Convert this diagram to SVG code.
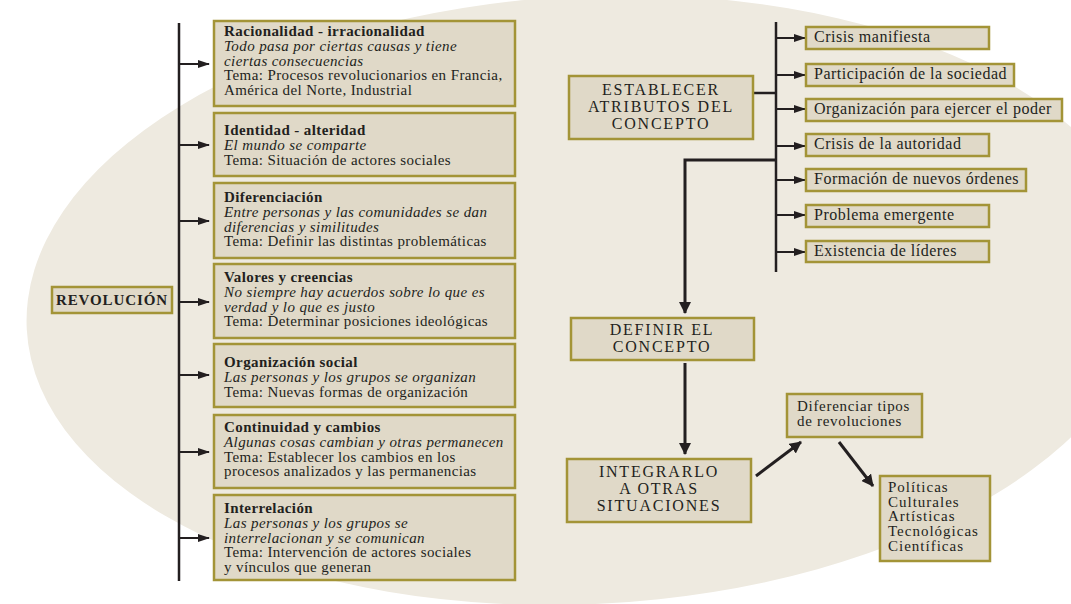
<svg xmlns="http://www.w3.org/2000/svg" width="1071" height="604" viewBox="0 0 1071 604">
<defs>
<style>
.bx{fill:#E0D9C8;stroke:#A39437;stroke-width:2.5}
text{fill:#231F20;font-size:15px;letter-spacing:0.4px;font-family:"Liberation Serif","Times New Roman",serif}
.b{font-weight:bold}
.i{font-style:italic}
.cap{font-size:16px;text-anchor:middle;letter-spacing:1.8px}
.it{font-size:16px;letter-spacing:0.5px}
.rv{font-weight:bold;letter-spacing:0.9px;text-anchor:middle}
.df{font-size:15px;letter-spacing:0.7px}
.tp{font-size:15px;letter-spacing:1px}
.ln{stroke:#231F20;stroke-width:2.5;fill:none}
.ar{stroke:#231F20;stroke-width:2;fill:none;marker-end:url(#ah)}
.ar2{stroke:#231F20;stroke-width:3;fill:none;marker-end:url(#ah2)}
</style>
<marker id="ah" markerWidth="12" markerHeight="8" refX="11" refY="4" orient="auto" markerUnits="userSpaceOnUse">
<path d="M0,0 L12,4 L0,8 Z" fill="#231F20"/>
</marker>
<marker id="ah2" markerWidth="12" markerHeight="12" refX="11" refY="6" orient="auto" markerUnits="userSpaceOnUse">
<path d="M0,0 L12,6 L0,12 Z" fill="#231F20"/>
</marker>
</defs>
<rect width="1071" height="604" fill="#FFFFFF"/>
<ellipse cx="588" cy="300" rx="562" ry="304" fill="#EEEAE0" transform="rotate(-3 588 300)"/>

<g id="connectors">
<line class="ln" x1="179" y1="23" x2="179" y2="581"/>
<line class="ar" x1="179" y1="64" x2="209" y2="64"/>
<line class="ar" x1="179" y1="145" x2="209" y2="145"/>
<line class="ar" x1="179" y1="221" x2="209" y2="221"/>
<line class="ar" x1="179" y1="302" x2="209" y2="302"/>
<line class="ar" x1="179" y1="375" x2="209" y2="375"/>
<line class="ar" x1="179" y1="452" x2="209" y2="452"/>
<line class="ar" x1="179" y1="538" x2="209" y2="538"/>
<line class="ln" x1="753" y1="93" x2="776" y2="93"/>
<line class="ln" x1="776" y1="22" x2="776" y2="272"/>
<line class="ar" x1="776" y1="38" x2="805" y2="38"/>
<line class="ar" x1="776" y1="75" x2="805" y2="75"/>
<line class="ar" x1="776" y1="109" x2="805" y2="109"/>
<line class="ar" x1="776" y1="146" x2="805" y2="146"/>
<line class="ar" x1="776" y1="180" x2="805" y2="180"/>
<line class="ar" x1="776" y1="215" x2="805" y2="215"/>
<line class="ar" x1="776" y1="252" x2="805" y2="252"/>
<path class="ar2" d="M776,160 H685 V313"/>
<line class="ar2" x1="685" y1="363" x2="685" y2="454"/>
<line class="ar2" x1="756" y1="476" x2="801" y2="442"/>
<line class="ar2" x1="839" y1="442" x2="873" y2="486"/>
</g>

<g id="revolucion">
<rect class="bx" x="52" y="287" width="120" height="26"/>
<text class="rv" x="112" y="305">REVOLUCIÓN</text>
</g>

<g id="n1">
<rect class="bx" x="214" y="21" width="301" height="85"/>
<text x="224" y="36"><tspan class="b">Racionalidad - irracionalidad</tspan><tspan class="i" x="224" dy="14.8">Todo pasa por ciertas causas y tiene</tspan><tspan class="i" x="224" dy="14.8">ciertas consecuencias</tspan><tspan x="224" dy="14.8">Tema: Procesos revolucionarios en Francia,</tspan><tspan x="224" dy="14.8">América del Norte, Industrial</tspan></text>
</g>
<g id="n2">
<rect class="bx" x="214" y="113" width="301" height="63"/>
<text x="224" y="135"><tspan class="b">Identidad - alteridad</tspan><tspan class="i" x="224" dy="14.8">El mundo se comparte</tspan><tspan x="224" dy="14.8">Tema: Situación de actores sociales</tspan></text>
</g>
<g id="n3">
<rect class="bx" x="214" y="183" width="301" height="75"/>
<text x="224" y="202"><tspan class="b">Diferenciación</tspan><tspan class="i" x="224" dy="14.8">Entre personas y las comunidades se dan</tspan><tspan class="i" x="224" dy="14.8">diferencias y similitudes</tspan><tspan x="224" dy="14.8">Tema: Definir las distintas problemáticas</tspan></text>
</g>
<g id="n4">
<rect class="bx" x="214" y="264" width="301" height="74"/>
<text x="224" y="282"><tspan class="b">Valores y creencias</tspan><tspan class="i" x="224" dy="14.8">No siempre hay acuerdos sobre lo que es</tspan><tspan class="i" x="224" dy="14.8">verdad y lo que es justo</tspan><tspan x="224" dy="14.8">Tema: Determinar posiciones ideológicas</tspan></text>
</g>
<g id="n5">
<rect class="bx" x="214" y="344" width="301" height="63"/>
<text x="224" y="367"><tspan class="b">Organización social</tspan><tspan class="i" x="224" dy="14.8">Las personas y los grupos se organizan</tspan><tspan x="224" dy="14.8">Tema: Nuevas formas de organización</tspan></text>
</g>
<g id="n6">
<rect class="bx" x="214" y="415" width="301" height="73"/>
<text x="224" y="432"><tspan class="b">Continuidad y cambios</tspan><tspan class="i" x="224" dy="14.8">Algunas cosas cambian y otras permanecen</tspan><tspan x="224" dy="14.8">Tema: Establecer los cambios en los</tspan><tspan x="224" dy="14.8">procesos analizados y las permanencias</tspan></text>
</g>
<g id="n7">
<rect class="bx" x="214" y="495" width="301" height="85"/>
<text x="224" y="513"><tspan class="b">Interrelación</tspan><tspan class="i" x="224" dy="14.8">Las personas y los grupos se</tspan><tspan class="i" x="224" dy="14.8">interrelacionan y se comunican</tspan><tspan x="224" dy="14.8">Tema: Intervención de actores sociales</tspan><tspan x="224" dy="14.8">y vínculos que generan</tspan></text>
</g>

<g id="establecer">
<rect class="bx" x="569" y="76" width="184" height="63"/>
<text class="cap" x="661" y="95"><tspan x="661">ESTABLECER</tspan><tspan x="661" dy="17">ATRIBUTOS DEL</tspan><tspan x="661" dy="17">CONCEPTO</tspan></text>
</g>

<g id="a1"><rect class="bx" x="806" y="27" width="183" height="22"/><text class="it" x="814" y="42">Crisis manifiesta</text></g>
<g id="a2"><rect class="bx" x="806" y="64" width="208" height="22"/><text class="it" x="814" y="79">Participación de la sociedad</text></g>
<g id="a3"><rect class="bx" x="806" y="99" width="256" height="22"/><text class="it" x="814" y="114">Organización para ejercer el poder</text></g>
<g id="a4"><rect class="bx" x="806" y="134" width="183" height="22"/><text class="it" x="814" y="149">Crisis de la autoridad</text></g>
<g id="a5"><rect class="bx" x="806" y="169" width="220" height="22"/><text class="it" x="814" y="184">Formación de nuevos órdenes</text></g>
<g id="a6"><rect class="bx" x="806" y="205" width="183" height="22"/><text class="it" x="814" y="220">Problema emergente</text></g>
<g id="a7"><rect class="bx" x="806" y="241" width="183" height="21"/><text class="it" x="814" y="256">Existencia de líderes</text></g>

<g id="definir">
<rect class="bx" x="571" y="318" width="183" height="42"/>
<text class="cap" x="662" y="335"><tspan x="662">DEFINIR EL</tspan><tspan x="662" dy="17">CONCEPTO</tspan></text>
</g>

<g id="integrarlo">
<rect class="bx" x="567" y="459" width="184" height="63"/>
<text class="cap" x="659" y="477"><tspan x="659">INTEGRARLO</tspan><tspan x="659" dy="17">A OTRAS</tspan><tspan x="659" dy="17">SITUACIONES</tspan></text>
</g>

<g id="diferenciar">
<rect class="bx" x="787" y="394" width="135" height="43"/>
<text class="df" x="797" y="411"><tspan x="797">Diferenciar tipos</tspan><tspan x="797" dy="15">de revoluciones</tspan></text>
</g>

<g id="tipos">
<rect class="bx" x="880" y="476" width="110" height="85"/>
<text class="tp" x="888" y="492"><tspan x="888">Políticas</tspan><tspan x="888" dy="14.7">Culturales</tspan><tspan x="888" dy="14.7">Artísticas</tspan><tspan x="888" dy="14.7">Tecnológicas</tspan><tspan x="888" dy="14.7">Científicas</tspan></text>
</g>
</svg>
